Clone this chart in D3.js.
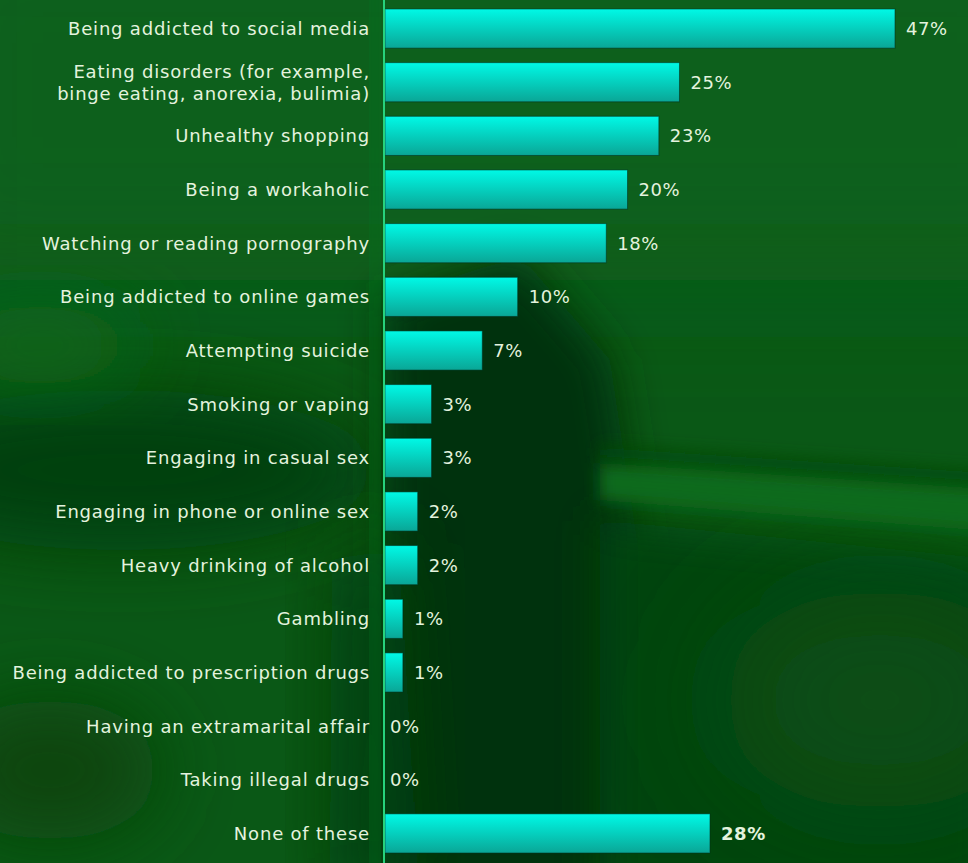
<!DOCTYPE html>
<html>
<head>
<meta charset="utf-8">
<script src="https://cdn.jsdelivr.net/npm/d3@7/dist/d3.min.js"></script>
<style>
  html, body { margin: 0; padding: 0; background: #0a5716; }
  svg { display: block; }
</style>
</head>
<body>
<svg id="chart" width="968" height="863"></svg>
<script>
// Survey categories, top to bottom
const categories = [
  "Being addicted to social media",
  "Eating disorders (for example,|binge eating, anorexia, bulimia)",
  "Unhealthy shopping",
  "Being a workaholic",
  "Watching or reading pornography",
  "Being addicted to online games",
  "Attempting suicide",
  "Smoking or vaping",
  "Engaging in casual sex",
  "Engaging in phone or online sex",
  "Heavy drinking of alcohol",
  "Gambling",
  "Being addicted to prescription drugs",
  "Having an extramarital affair",
  "Taking illegal drugs",
  "None of these"
];
// Share of respondents (%)
const values = [47, 25, 23, 20, 18, 10, 7, 3, 3, 2, 2, 1, 1, 0, 0, 28];
// Rows whose value label is set in bold
const boldRows = ["None of these"];

const W = 968, H = 863;
const axisX = 384;
const FONT = "'DejaVu Sans', sans-serif";

const svg = d3.select("#chart");
const defs = svg.append("defs");

// ---- blurred photographic backdrop ----
[["blurXL", 60], ["blurL", 38], ["blurM", 22], ["blurS", 8]].forEach(([id, s]) => {
  defs.append("filter").attr("id", id)
    .attr("x", "-50%").attr("y", "-50%").attr("width", "200%").attr("height", "200%")
    .append("feGaussianBlur").attr("stdDeviation", s);
});

const bg = svg.append("g");
bg.append("rect").attr("width", W).attr("height", H).attr("fill", "#0a5816");
const blobs = [
  // bright upper field
  { t: "rect", a: { x: -100, y: -100, width: 1200, height: 380 }, f: "#0c611a", b: "blurXL" },
  // darker left middle
  { t: "ellipse", a: { cx: 120, cy: 470, rx: 260, ry: 80 }, f: "#063f0d", b: "blurL" },
  { t: "ellipse", a: { cx: 40, cy: 345, rx: 100, ry: 40 }, f: "#0c661b", b: "blurL" },
  // large dark wedge behind short bars
  { t: "polygon", a: { points: "385,300 520,255 610,360 640,560 630,900 385,900" }, f: "#03330a", b: "blurM" },
  { t: "polygon", a: { points: "330,560 400,540 420,900 330,900" }, f: "#05400d", b: "blurL" },
  // lower right darker floor
  { t: "polygon", a: { points: "600,520 1000,560 1000,900 600,900" }, f: "#06450e", b: "blurM" },
  { t: "ellipse", a: { cx: 880, cy: 700, rx: 160, ry: 110 }, f: "#084d12", b: "blurXL" },
  // light diagonal ledge on the right
  { t: "polygon", a: { points: "600,463 1000,490 1000,532 600,500" }, f: "#0d6a1c", b: "blurS" },
  { t: "polygon", a: { points: "600,446 1000,472 1000,484 600,458" }, f: "#06480f", b: "blurS" },
  // soft lower left
  { t: "ellipse", a: { cx: 50, cy: 770, rx: 110, ry: 70 }, f: "#074510", b: "blurL" },
  // glow next to the baseline
  { t: "rect", a: { x: 372, y: -20, width: 6, height: 900 }, f: "#0e7421", b: "blurS" }
];
blobs.forEach(d => {
  const el = bg.append(d.t).attr("fill", d.f).attr("filter", `url(#${d.b})`);
  Object.entries(d.a).forEach(([k, v]) => el.attr(k, v));
});

// ---- bar gradient ----
const grad = defs.append("linearGradient").attr("id", "barGrad")
  .attr("x1", 0).attr("y1", 0).attr("x2", 0).attr("y2", 1);
grad.append("stop").attr("offset", "0%").attr("stop-color", "#00f9e6");
grad.append("stop").attr("offset", "100%").attr("stop-color", "#0aa696");

// ---- scales ----
const y = d3.scaleBand()
  .domain(categories)
  .range([2, 860])
  .paddingInner(0.27)
  .paddingOuter(0.13);

const x = d3.scalePow().exponent(0.87)
  .domain([0, d3.max(values)])
  .range([0, 510]);

const rows = categories.map((c, i) => ({ cat: c, value: values[i] }));

const g = svg.append("g").attr("transform", `translate(${axisX + 1},0)`);

// bars
g.selectAll("rect.bar")
  .data(rows.filter(d => d.value > 0))
  .join("rect")
  .attr("class", "bar")
  .attr("x", 0)
  .attr("y", d => y(d.cat))
  .attr("width", d => x(d.value))
  .attr("height", y.bandwidth())
  .attr("fill", "url(#barGrad)")
  .attr("stroke", "rgba(0,45,25,0.55)")
  .attr("stroke-width", 1);

// value labels
g.selectAll("text.val")
  .data(rows)
  .join("text")
  .attr("class", "val")
  .attr("x", d => x(d.value) + (d.value > 0 ? 11 : 5))
  .attr("y", d => y(d.cat) + y.bandwidth() / 2)
  .attr("dy", "0.36em")
  .attr("fill", "#e4f3de")
  .attr("font-family", FONT)
  .attr("font-size", 18)
  .attr("letter-spacing", 0.6)
  .attr("font-weight", d => boldRows.includes(d.cat) ? "bold" : "normal")
  .text(d => d3.format("d")(d.value) + "%");

// left axis (ticks only carry the category positions)
const yAxis = d3.axisLeft(y).tickSize(0).tickPadding(0).tickFormat("");
const axisG = svg.append("g").attr("transform", `translate(${axisX},0)`).call(yAxis);
axisG.select(".domain").remove();

// category labels, right-aligned against the baseline
const labels = svg.append("g");
rows.forEach(d => {
  const lines = d.cat.split("|");
  const cy = y(d.cat) + y.bandwidth() / 2;
  const lh = 22;
  const t = labels.append("text")
    .attr("text-anchor", "end")
    .attr("fill", "#e4f3de")
    .attr("font-family", FONT)
    .attr("font-size", 18)
    .attr("letter-spacing", 0.8);
  lines.forEach((ln, i) => {
    t.append("tspan")
      .attr("x", axisX - 14)
      .attr("y", cy + (i - (lines.length - 1) / 2) * lh)
      .attr("dy", "0.36em")
      .text(ln);
  });
});

// vertical baseline
svg.append("line")
  .attr("x1", axisX).attr("x2", axisX)
  .attr("y1", 0).attr("y2", H)
  .attr("stroke", "#27d27c")
  .attr("stroke-width", 2);
</script>
</body>
</html>
